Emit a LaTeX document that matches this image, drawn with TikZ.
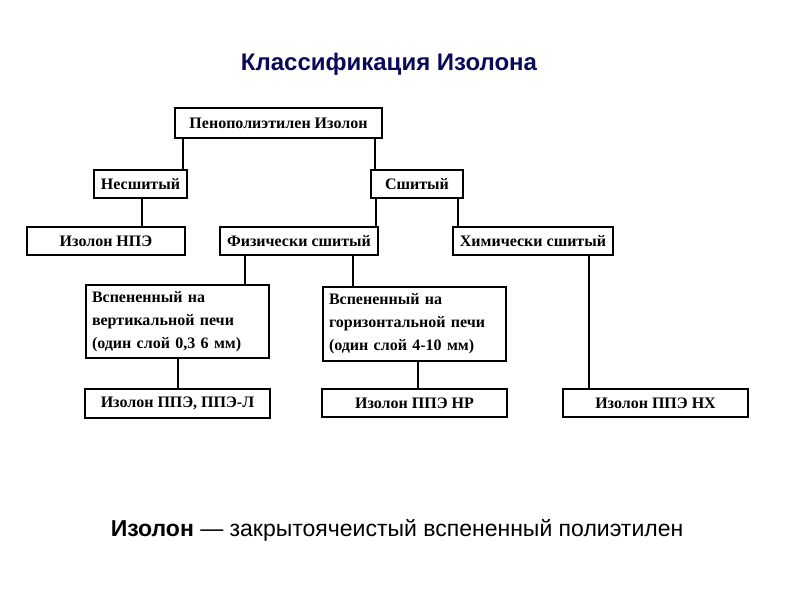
\documentclass[tikz,border=0pt]{standalone}
\usepackage{fontspec}
\setmainfont{Liberation Serif}
\newfontfamily\sansf{Liberation Sans}
\definecolor{navy}{RGB}{10,10,90}
\begin{document}
\begin{tikzpicture}[x=1pt,y=-1pt,
  bx/.style={draw,line width=1.2pt,inner sep=0pt,font=\bfseries\fontsize{16}{23}\selectfont},
  ln/.style={line width=1.2pt}]
\useasboundingbox (0,0) rectangle (794,595);
\newcommand\bxat[6]{\node[bx,minimum width=#4-#2,minimum height=#5-#3] (#1) at ({(#2+#4)/2},{(#3+#5)/2}) {#6};}
\node[font=\sansf\bfseries\fontsize{24}{28}\selectfont,text=navy] (title) at (389,64) {Классификация Изолона};
\bxat{root}{175}{108}{382}{138}{Пенополиэтилен Изолон}
\bxat{ns}{94}{170}{187}{198}{Несшитый}
\bxat{s}{371}{170}{463}{198}{Сшитый}
\bxat{npe}{27}{227}{185}{255}{Изолон НПЭ}
\bxat{fiz}{220}{227}{378}{255}{Физически сшитый}
\bxat{him}{453}{227}{613}{255}{Химически сшитый}
\node[bx,minimum width=183,minimum height=73,align=left,text width=171,inner xsep=6] (vert) at (177.5,321.5) {Вспененный на\\вертикальной печи\\(один слой 0,3 6 мм)};
\node[bx,minimum width=183,minimum height=74,align=left,text width=171,inner xsep=6] (hor) at (414.5,324) {Вспененный на\\горизонтальной печи\\(один слой 4-10 мм)};
\bxat{ppe}{85}{389}{270}{418}{Изолон ППЭ, ППЭ-Л}
\bxat{nr}{322}{389}{507}{417}{Изолон ППЭ НР}
\bxat{nh}{563}{389}{748}{417}{Изолон ППЭ НХ}
\node[font=\sansf\fontsize{23}{26}\selectfont] (foot) at (397,530) {\textbf{Изолон} — закрытоячеистый вспененный полиэтилен};
\draw[ln] (root.south -| 183,0) -- (ns.north -| 183,0);
\draw[ln] (root.south -| 375,0) -- (s.north -| 375,0);
\draw[ln] (ns.south -| 142,0) -- (npe.north -| 142,0);
\draw[ln] (s.south -| 376,0) -- (fiz.north -| 376,0);
\draw[ln] (s.south -| 458,0) -- (him.north -| 458,0);
\draw[ln] (fiz.south -| 245,0) -- (vert.north -| 245,0);
\draw[ln] (fiz.south -| 353,0) -- (hor.north -| 353,0);
\draw[ln] (vert.south -| 178,0) -- (ppe.north -| 178,0);
\draw[ln] (hor.south -| 418,0) -- (nr.north -| 418,0);
\draw[ln] (him.south -| 589,0) -- (nh.north -| 589,0);
\end{tikzpicture}
\end{document}
